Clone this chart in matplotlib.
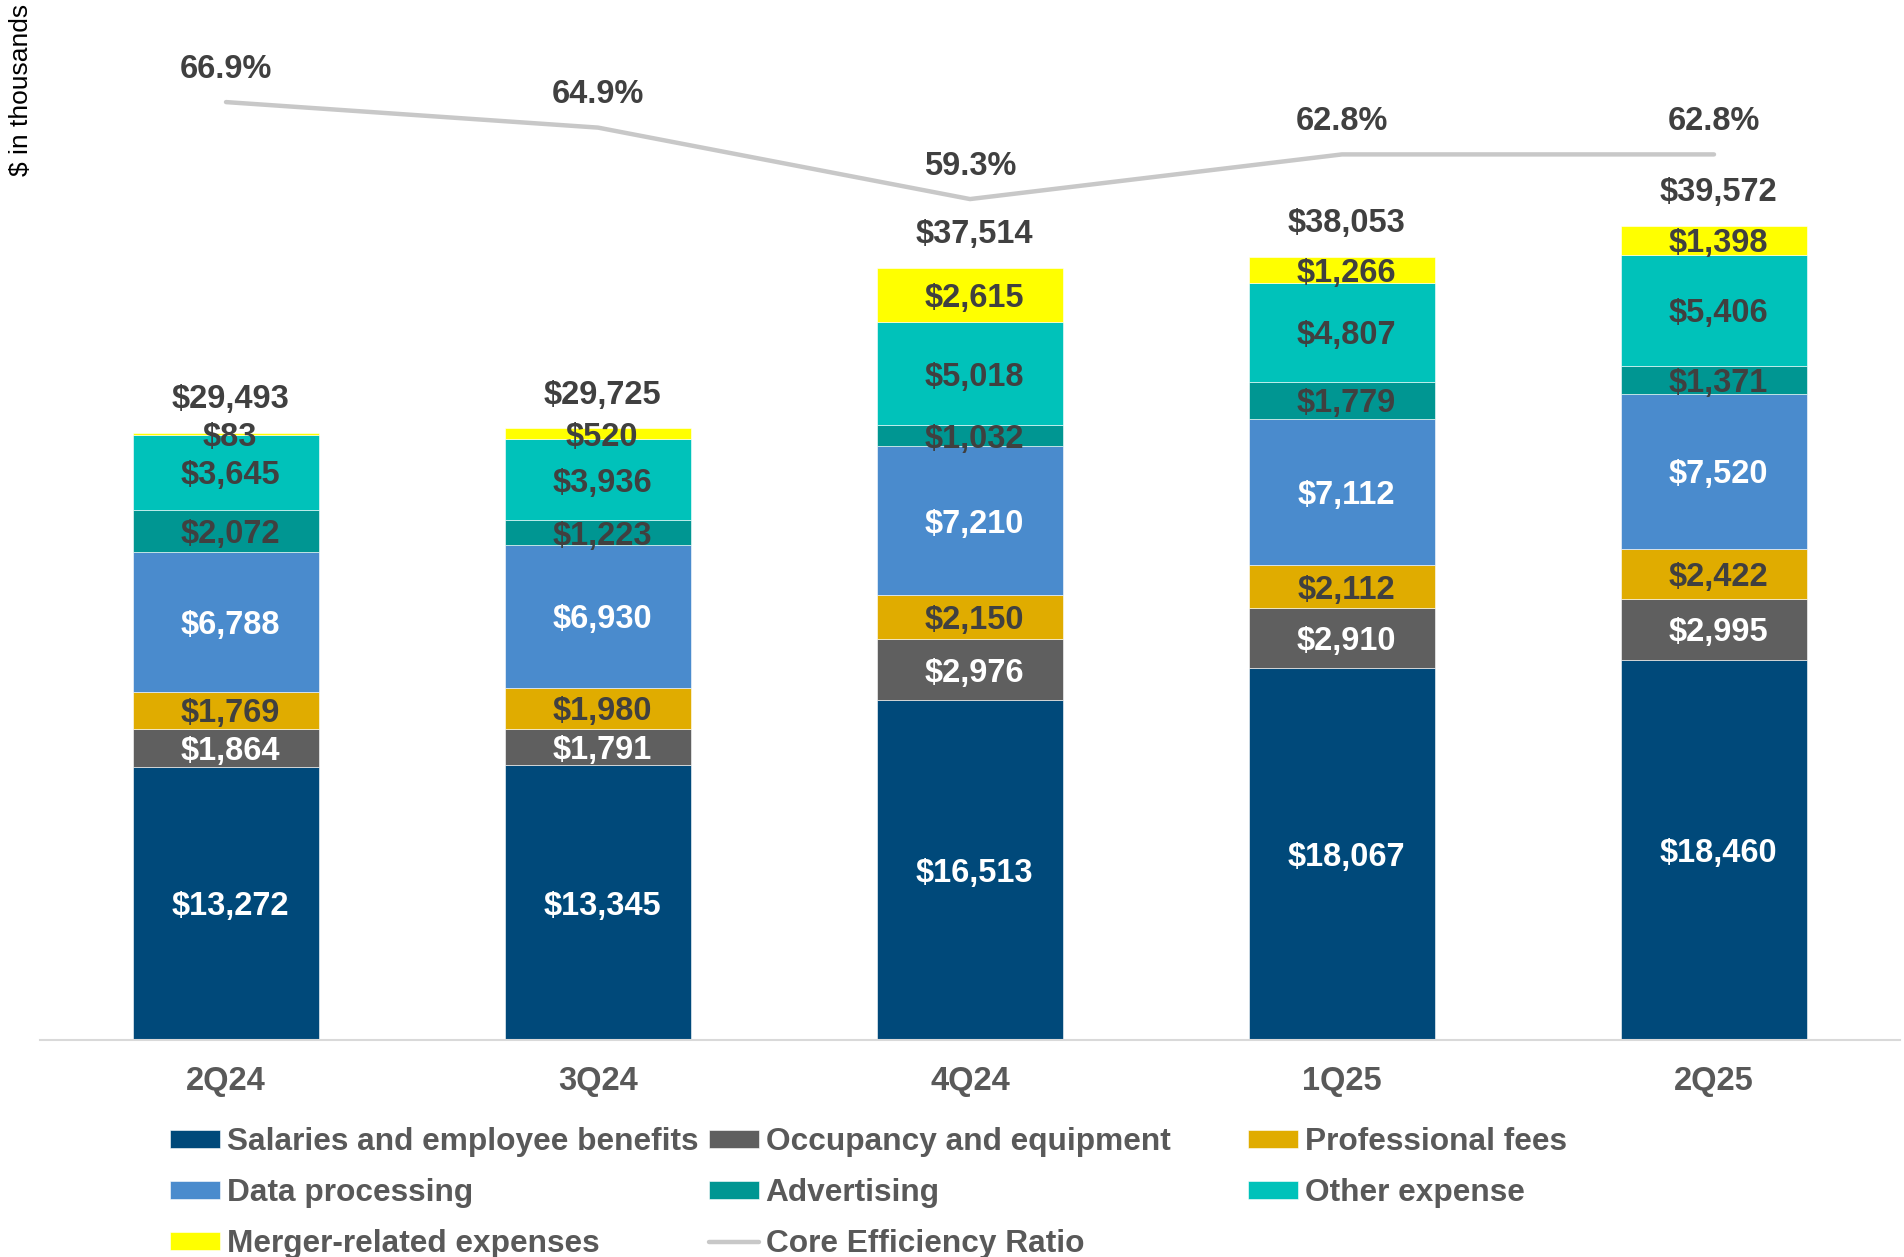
import matplotlib
matplotlib.use("Agg")
import matplotlib.pyplot as plt
import numpy as np

plt.rcParams['font.family'] = ['Liberation Sans', 'DejaVu Sans']

quarters = ["2Q24", "3Q24", "4Q24", "1Q25", "2Q25"]
salaries = [13272, 13345, 16513, 18067, 18460]
occupancy = [1864, 1791, 2976, 2910, 2995]
professional = [1769, 1980, 2150, 2112, 2422]
data_processing = [6788, 6930, 7210, 7112, 7520]
advertising = [2072, 1223, 1032, 1779, 1371]
other_expense = [3645, 3936, 5018, 4807, 5406]
merger = [83, 520, 2615, 1266, 1398]
totals = [29493, 29725, 37514, 38053, 39572]
efficiency = [66.9, 64.9, 59.3, 62.8, 62.8]

series = [
    ("Salaries and employee benefits", salaries, "#00497A", "white"),
    ("Occupancy and equipment", occupancy, "#5F5F5F", "white"),
    ("Professional fees", professional, "#E0AC00", "#404040"),
    ("Data processing", data_processing, "#4A8BCD", "white"),
    ("Advertising", advertising, "#009692", "#404040"),
    ("Other expense", other_expense, "#00C2BA", "#404040"),
    ("Merger-related expenses", merger, "#FFFF00", "#404040"),
]

FS = 23.5

fig = plt.figure(figsize=(19.04, 12.57), dpi=100)
ax = fig.add_axes([40/1904, 217/1257, 1860/1904, 1040/1257])
x = np.arange(len(quarters))
bottom = np.zeros(len(quarters))
handles = {}
for name, vals, color, tcolor in series:
    vals = np.array(vals, dtype=float)
    bars = ax.bar(x, vals, width=0.5, bottom=bottom, color=color, label=name,
                  edgecolor="white", linewidth=0.4)
    handles[name] = bars
    for xi, b, v in zip(x, bottom, vals):
        ax.annotate(f"${int(v):,}", (xi, b + v/2), xytext=(3, -2.5),
                    textcoords="offset points", ha="center", va="center",
                    fontsize=FS, fontweight="bold", color=tcolor)
    bottom += vals

for xi, t in zip(x, totals):
    ax.annotate(f"${t:,}", (xi, t), xytext=(3, 24), textcoords="offset points",
                ha="center", va="center", fontsize=FS, fontweight="bold", color="#404040")

ax.set_xlim(-0.5, 4.5)
ax.set_ylim(0, 50544)
ax.set_xticks(x)
ax.set_xticklabels(quarters, fontsize=FS, fontweight="bold", color="#595959")
ax.tick_params(axis="x", length=0, pad=19)
ax.set_yticks([])
for s in ["top", "right", "left"]:
    ax.spines[s].set_visible(False)
ax.spines["bottom"].set_color("#D9D9D9")
ax.spines["bottom"].set_linewidth(1.5)

ax2 = ax.twinx()
line, = ax2.plot(x, efficiency, color="#C8C8C8", linewidth=3.2,
                 solid_capstyle="round", label="Core Efficiency Ratio")
for xi, e in zip(x, efficiency):
    ax2.annotate(f"{e:.1f}%", (xi, e), xytext=(0, 23.5), textcoords="offset points",
                 ha="center", va="center", fontsize=FS, fontweight="bold", color="#404040")
ax2.set_ylim(-6.6, 74.9)
ax2.set_yticks([])
for s in ["top", "right", "left", "bottom"]:
    ax2.spines[s].set_visible(False)

fig.text(21/1904, 1 - 4/1257, "$ in thousands", rotation=90, ha="center", va="top",
         fontsize=19, color="black")

cols = [
    (170, ["Salaries and employee benefits", "Data processing", "Merger-related expenses"]),
    (709, ["Occupancy and equipment", "Advertising", "Core Efficiency Ratio"]),
    (1248, ["Professional fees", "Other expense"]),
]
for cx, names in cols:
    hs = [line if n == "Core Efficiency Ratio" else handles[n] for n in names]
    leg = fig.legend(hs, names, loc="upper left",
                     bbox_to_anchor=(cx/1904, (1257 - 1127)/1257),
                     frameon=False, borderpad=0, borderaxespad=0,
                     prop={"size": 22.8, "weight": "bold"},
                     handlelength=1.57, handleheight=0.5, handletextpad=0.22,
                     labelspacing=0.66)
    for t in leg.get_texts():
        t.set_color("#595959")

fig.savefig("out.png", dpi=100, facecolor="white")
